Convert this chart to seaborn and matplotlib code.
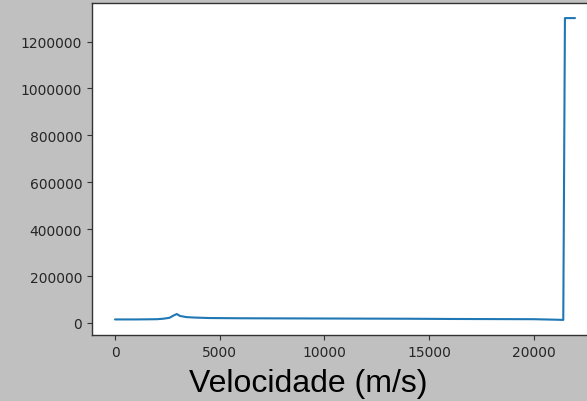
import matplotlib
matplotlib.use("Agg")
import matplotlib.pyplot as plt
import seaborn as sns
import pandas as pd

# Data
velocidade = [0, 1000, 2000, 2300, 2600, 2800, 2950, 3100, 3400, 3800, 4500, 6000,
              8000, 10000, 12000, 14000, 16000, 18000, 20000, 21000, 21400, 21480,
              21960]
valores = [15000, 15000, 16000, 18000, 22000, 32000, 38000, 30000, 25000, 23000,
           21000, 20000, 19500, 19000, 18500, 18000, 17000, 16500, 16000, 14000,
           13000, 1300000, 1300000]

yticks = [0, 200000, 400000, 600000, 800000, 1000000, 1200000]
xticks = [0, 5000, 10000, 15000, 20000]

sns.set_style("ticks")
plt.rcParams['font.family'] = ['DejaVu Sans']

df = pd.DataFrame({"v": velocidade, "y": valores})

fig = plt.figure(figsize=(5.87, 4.02), dpi=100)
fig.patch.set_facecolor("#c0c0c0")
ax = fig.add_axes([92/587, (402-336)/402, (598-92)/587, (336-4)/402])
ax.set_facecolor("white")

sns.lineplot(data=df, x="v", y="y", ax=ax, color="#1f77b4", linewidth=1.5,
             sort=False, estimator=None)

ax.set_xticks(xticks)
ax.set_yticks(yticks)
ax.set_yticklabels([str(t) for t in yticks])
ax.set_xticklabels([str(t) for t in xticks])
ax.margins(x=0.05, y=0.05)
ax.tick_params(axis="both", labelsize=10, colors="#333333", length=3.5, width=0.8,
               labelcolor="#262626")
for s in ax.spines.values():
    s.set_color("#333333")
    s.set_linewidth(1.0)
    s.set_visible(True)

ax.set_ylabel("")
ax.set_xlabel("Velocidade (m/s)", fontsize=23, color="black",
              family=["Liberation Sans", "DejaVu Sans"], va="baseline")
ax.xaxis.set_label_coords((308-92)/(598-92), -(392-336)/332)

fig.savefig("out.png", dpi=100, facecolor=fig.get_facecolor())
